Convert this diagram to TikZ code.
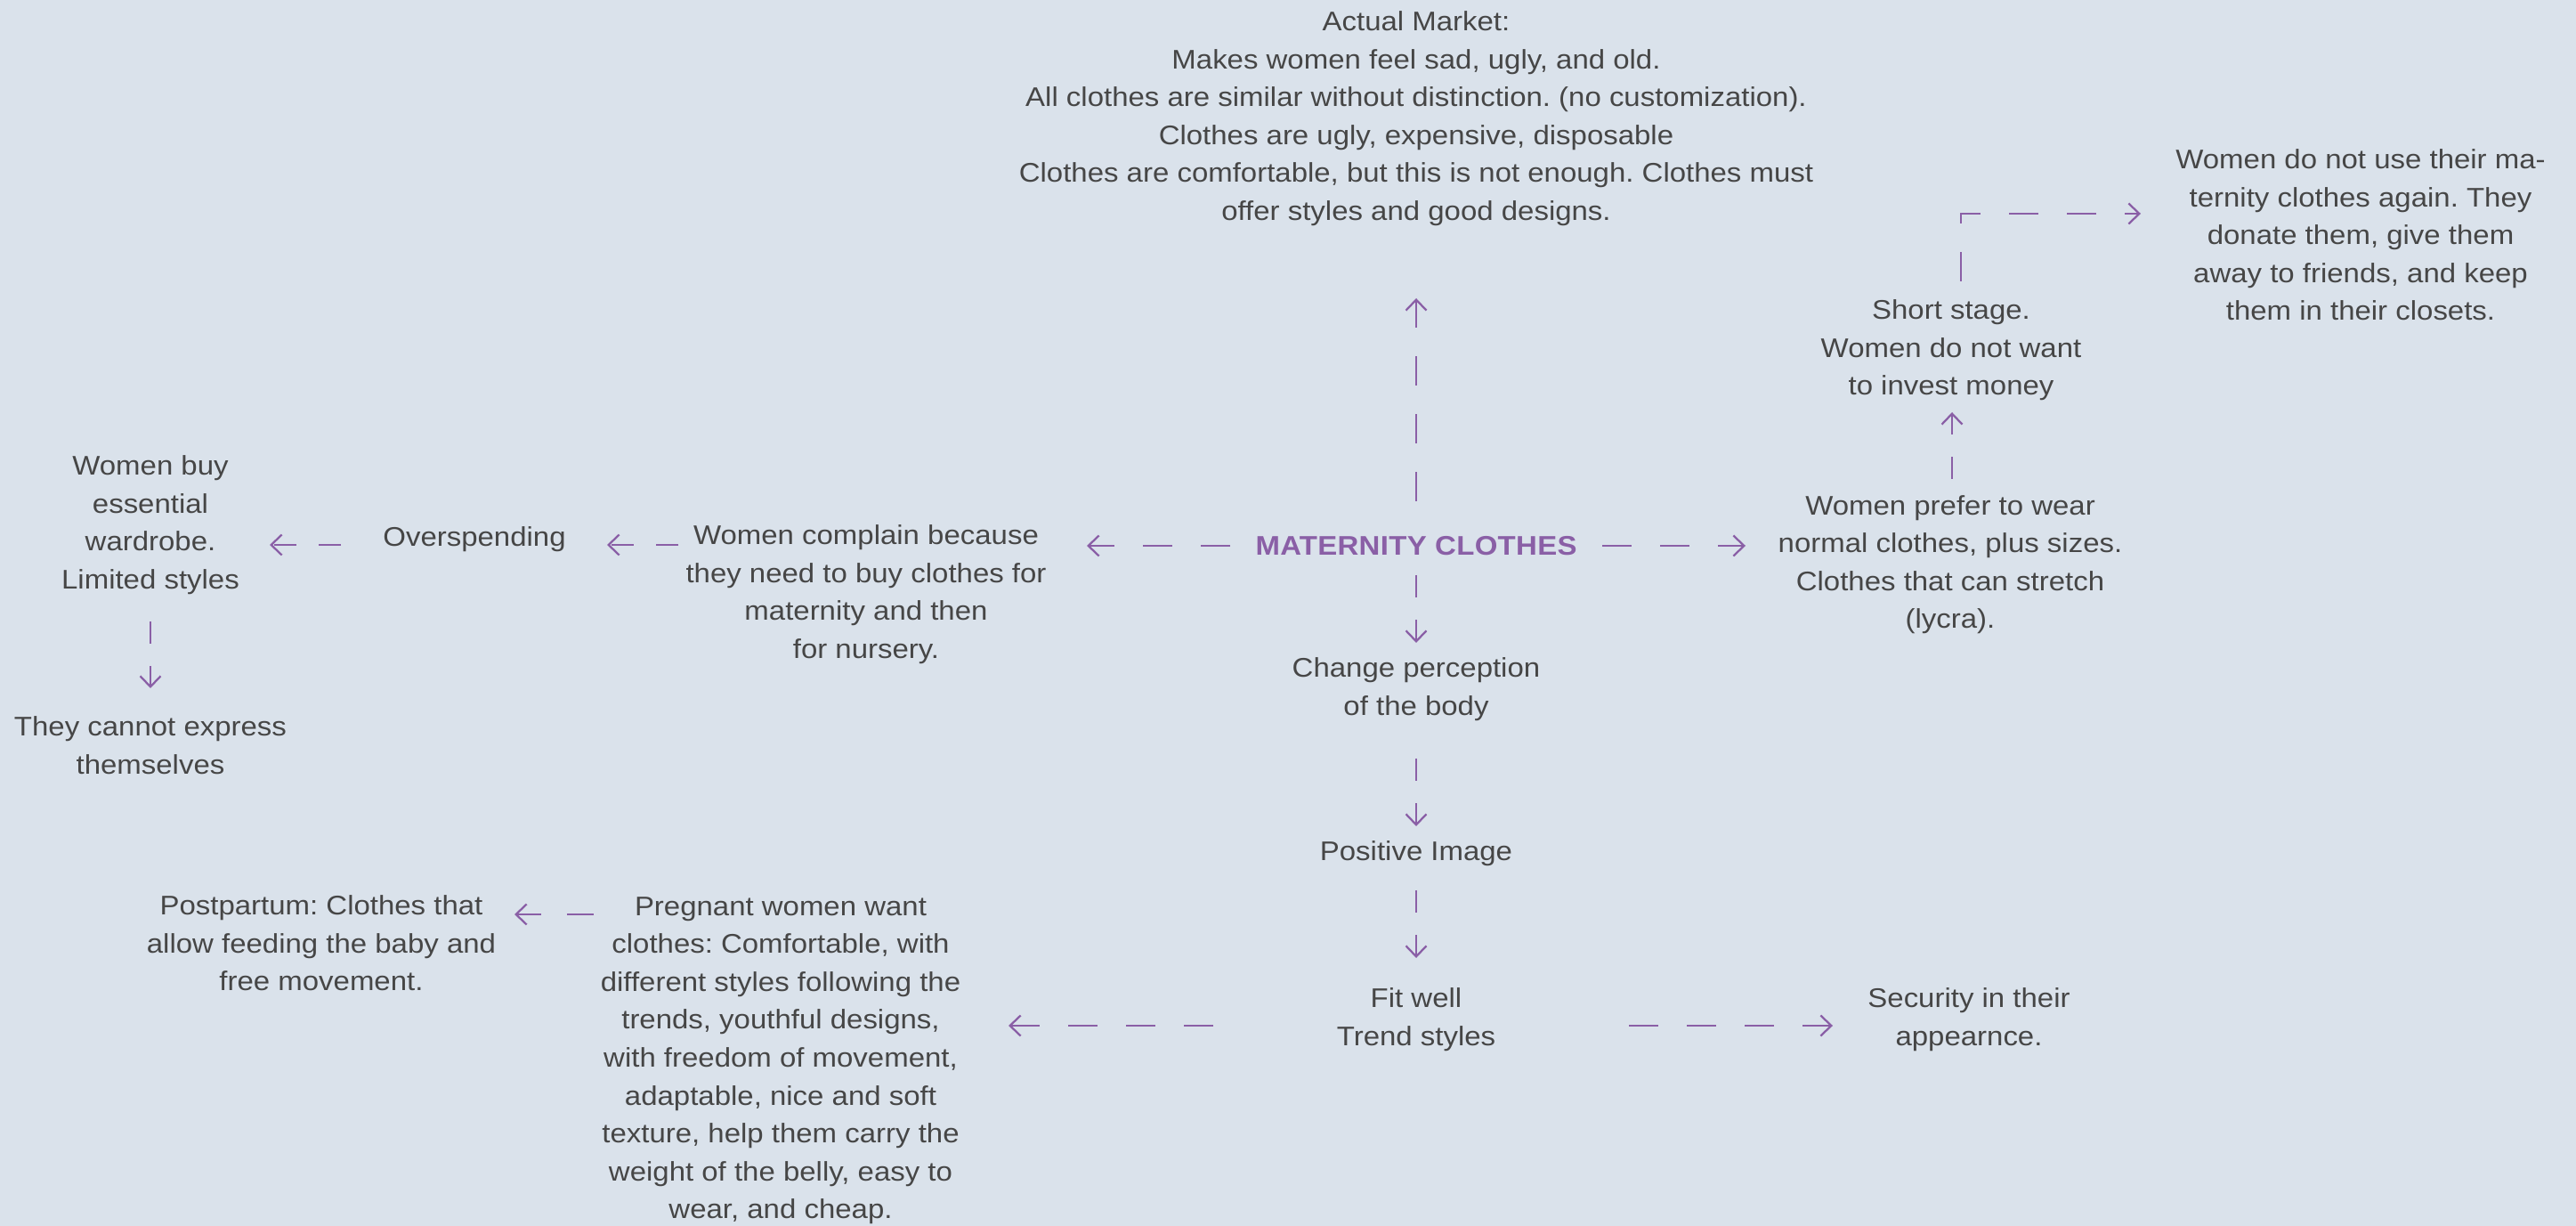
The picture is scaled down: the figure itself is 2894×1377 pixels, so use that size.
\documentclass[tikz,border=0pt]{standalone}
\usepackage{fontspec}
\setmainfont{Liberation Sans}[FakeStretch=1.09]
\usetikzlibrary{arrows.meta}
\definecolor{bg}{HTML}{DAE2EB}
\definecolor{ink}{HTML}{464646}
\definecolor{plum}{HTML}{8A5FA6}
\frenchspacing

\begin{document}
\begin{tikzpicture}[x=0.01cm, y=-0.01cm,
  txt/.style={align=center, text=ink, inner sep=0pt,
    font=\fontsize{8.6}{12.1}\selectfont,
    execute at begin node={\rule{0pt}{12.5pt}}, execute at end node=\strut},
  hub/.style={text=plum, inner sep=0pt,
    font=\fontsize{8.6}{12.1}\selectfont\bfseries\addfontfeature{LetterSpace=1}},
  conn/.style={draw=plum, line width=0.65pt,
    -{Straight Barb[length=0.12cm, width=0.23cm]}},
  lng/.style={conn, dash pattern=on 0.33cm off 0.32cm},
  shrt/.style={conn, dash pattern=on 0.25cm off 0.25cm},
  mid/.style={conn, dash pattern=on 0.30cm off 0.29cm}]

% canvas
\useasboundingbox (0,0) rectangle (2894,1377);
\fill[bg] (0,0) rectangle (2894,1377);

% ---- nodes ----
\node[hub] (c) at (1591,613) {MATERNITY CLOTHES};

\node[txt] (mkt) at (1591,136.5) {Actual Market:\\Makes women feel sad, ugly, and old.\\All clothes are similar without distinction. (no customization).\\Clothes are ugly, expensive, disposable\\Clothes are comfortable, but this is not enough. Clothes must\\offer styles and good designs.};

\node[txt] (prefer) at (2191,637.5) {Women prefer to wear\\normal clothes, plus sizes.\\Clothes that can stretch\\(lycra).};
\node[txt] (short) at (2192,396.5) {Short stage.\\Women do not want\\to invest money};
\node[txt] (reuse) at (2652,270) {Women do not use their ma-\\ternity clothes again. They\\donate them, give them\\away to friends, and keep\\them in their closets.};

\node[txt] (complain) at (973,671) {Women complain because\\they need to buy clothes for\\maternity and then\\for nursery.};
\node[txt] (over) at (533,597.5) {Overspending};
\node[txt] (buy) at (169,593) {Women buy\\essential\\wardrobe.\\Limited styles};
\node[txt] (express) at (169,843.5) {They cannot express\\themselves};

\node[txt] (percep) at (1591,777.5) {Change perception\\of the body};
\node[txt] (image) at (1591,950.5) {Positive Image};
\node[txt] (fit) at (1591,1148.5) {Fit well\\Trend styles};
\node[txt] (secure) at (2212,1148.5) {Security in their\\appearnce.};
\node[txt] (want) at (877,1194.5) {Pregnant women want\\clothes: Comfortable, with\\different styles following the\\trends, youthful designs,\\with freedom of movement,\\adaptable, nice and soft\\texture, help them carry the\\weight of the belly, easy to\\wear, and cheap.};
\node[txt] (post) at (361,1065.5) {Postpartum: Clothes that\\allow feeding the baby and\\free movement.};

% ---- connectors ----
\draw[lng] ([shift={(0,-50)}]c.center) -- ([shift={(0,198.5)}]mkt.center);
\draw[lng] ([shift={(209,0)}]c.center) -- ([shift={(-230,-24.5)}]prefer.center);
\draw[lng] ([shift={(-209,0)}]c.center) -- ([shift={(248,-58)}]complain.center);
\draw[shrt] ([shift={(0,33)}]c.center) -- ([shift={(0,-55.5)}]percep.center);
\draw[shrt] ([shift={(0,74.5)}]percep.center) -- ([shift={(0,-22.5)}]image.center);
\draw[shrt] ([shift={(0,49.5)}]image.center) -- ([shift={(0,-72.5)}]fit.center);
\draw[lng] ([shift={(-228,3.5)}]fit.center) -- ([shift={(256,-42.5)}]want.center);
\draw[lng] ([shift={(239,3.5)}]fit.center) -- ([shift={(-153,3.5)}]secure.center);
\draw[mid] ([shift={(-210,-167.5)}]want.center) -- ([shift={(217,-38.5)}]post.center);
\draw[shrt] ([shift={(-211,-59)}]complain.center) -- ([shift={(149,14.5)}]over.center);
\draw[shrt] ([shift={(-150,14.5)}]over.center) -- ([shift={(134,19)}]buy.center);
\draw[shrt] ([shift={(0,105)}]buy.center) -- ([shift={(0,-70.5)}]express.center);
\draw[shrt] ([shift={(2,-99.5)}]prefer.center) -- ([shift={(1,66.5)}]short.center);
\draw[lng] ([shift={(11,-80.5)}]short.center) |- ([shift={(-247,-30)}]reuse.center);

\end{tikzpicture}
\end{document}
